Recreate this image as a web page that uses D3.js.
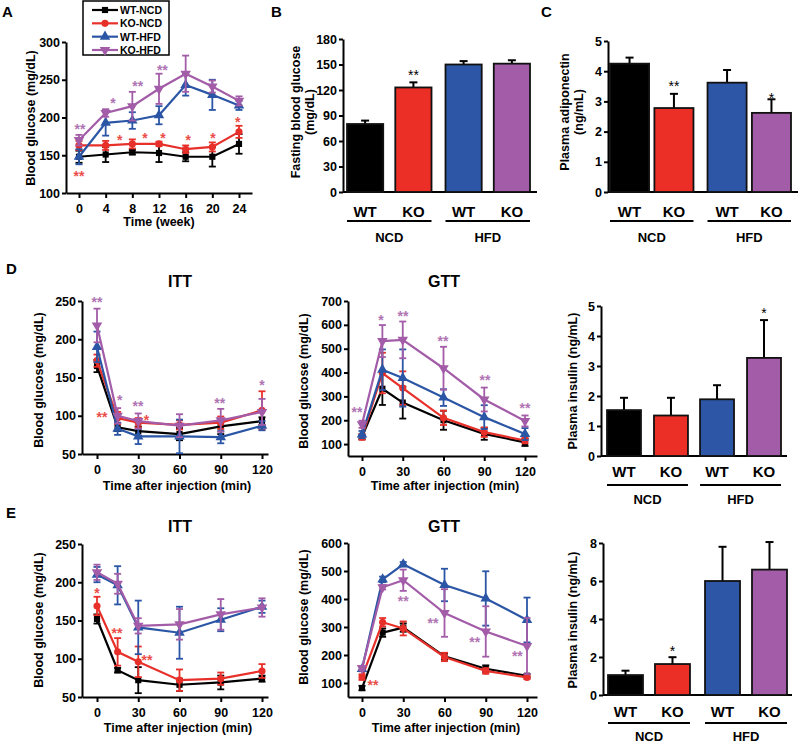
<!DOCTYPE html>
<html><head><meta charset="utf-8">
<script src="https://cdn.jsdelivr.net/npm/d3@7"></script>
<style>
body{margin:0;background:#fff}
svg{display:block;font-family:"Liberation Sans",Arial,sans-serif;font-weight:bold}
</style>
</head><body><svg id="c" width="800" height="745"></svg>
<script>
// ---------------- DATA ----------------
const groups = ["WT-NCD","KO-NCD","WT-HFD","KO-HFD"];
const lineColors = ["#000000","#e8302a","#2b55a5","#a35ca7"];
const barFills = ["#000000","#ec2f26","#2d57a6","#a35ca8"];
const genotypes = ["WT","KO"];
const diets = ["NCD","HFD"];

// Panel A: blood glucose over weeks
const weeks = [0,4,8,12,16,20,24];
const aTicksY = [100,150,200,250,300];
const aMeans = [
  [148,151,154,153,148,148,165],
  [163,163,165,165,158,161,181],
  [148,193,196,203,243,230,216],
  [170,206,215,238,258,241,222]
];
const aErrs = [
  [8,10,3,12,6,13,13],
  [6,6,6,3,5,6,8],
  [10,17,11,12,14,20,6],
  [7,5,19,20,24,8,6]
];
// [x, y, text, series index]
const aStars = [
  [0.15,189,"**",3],[5.1,223,"*",3],[8.8,246,"**",3],[12.5,267,"**",3],
  [0,126,"**",1],[6.1,174,"*",1],[9.9,177,"*",1],[12.6,177,"*",1],
  [16.4,174,"*",1],[20.1,177,"*",1],[23.8,198,"*",1]
];

// Panel B: fasting blood glucose
const bMeans = [80,123,150,151];
const bErrs = [4,6,4,4];
const bTicksY = [0,30,60,90,120,150,180];
const bStars = [[1,141,"**"]];

// Panel C: plasma adiponectin
const cMeans = [4.25,2.78,3.62,2.62];
const cErrs = [0.2,0.47,0.42,0.45];
const cTicksY = [0,1,2,3,4,5];
const cStars = [[1,3.6,"**"],[3,3.2,"*"]];

// time points for ITT / GTT
const minutes = [0,15,30,60,90,120];
const minTicks = [0,30,60,90,120];

// Panel D ITT
const dIttTicksY = [50,100,150,200,250];
const dIttMeans = [
  [165,85,80,76,86,93],
  [172,97,91,88,91,107],
  [190,83,73,73,72,87],
  [218,100,93,87,94,105]
];
const dIttErrs = [
  [8,5,6,8,10,5],
  [8,8,6,6,8,25],
  [20,8,10,22,8,6],
  [22,10,10,15,15,17]
];
const dIttStars = [
  [0,252,"**",3],[16.5,125,"*",3],[29.8,117,"**",3],[89.2,120,"**",3],[120,144,"*",3],
  [3.6,102,"**",1],[35.9,99,"*",1]
];

// Panel D GTT
const dGttTicksY = [100,200,300,400,500,600,700];
const dGttMeans = [
  [130,332,274,200,143,107],
  [130,398,335,210,150,115],
  [140,412,377,295,213,142],
  [183,532,537,418,287,197]
];
const dGttErrs = [
  [10,68,67,40,25,15],
  [12,85,70,30,20,12],
  [15,85,120,35,50,25],
  [15,67,77,90,50,23]
];
const dGttStars = [
  [-3.7,247,"**",3],[14,633,"*",3],[30.2,650,"**",3],[59.6,545,"**",3],[90.5,381,"**",3],[120,264,"**",3]
];

// Panel D plasma insulin
const dInsMeans = [1.53,1.35,1.89,3.27];
const dInsErrs = [0.41,0.59,0.47,1.26];
const dInsTicksY = [0,1,2,3,4,5];
const dInsStars = [[3,4.87,"*"]];

// Panel E ITT
const eIttTicksY = [50,100,150,200,250];
const eIttMeans = [
  [152,85,72,66,69,74],
  [169,109,96,72,74,84],
  [210,196,141,134,151,168],
  [213,198,143,145,158,167]
];
const eIttErrs = [
  [6,3,17,8,9,4],
  [12,18,20,14,8,9],
  [10,25,35,34,15,8],
  [10,13,10,20,20,12]
];
const eIttStars = [[0,190,"*",1],[14.5,138,"**",1],[36.4,102,"**",1]];

// Panel E GTT
const eGttTicksY = [100,200,300,400,500,600];
const eGttMeans = [
  [82,280,298,195,151,126],
  [121,317,295,193,143,120],
  [150,470,524,450,402,325],
  [153,442,467,350,284,232]
];
const eGttErrs = [
  [8,15,15,12,12,6],
  [10,15,25,15,10,6],
  [8,10,8,58,97,80],
  [8,8,38,85,90,100]
];
const eGttStars = [
  [8,104,"**",1],[30,403,"**",3],[51.6,325,"**",3],[82,257,"**",3],[113,207,"**",3]
];

// Panel E plasma insulin
const eInsMeans = [1.05,1.63,6.0,6.6];
const eInsErrs = [0.23,0.36,1.8,1.45];
const eInsTicksY = [0,2,4,6,8];
const eInsStars = [[1,2.5,"*"]];

// ---------------- DRAWING ----------------
const svg = d3.select("#c");
const TICK_FONT = "12.5px";
const TITLE_FONT = "12.5px";
const fmt = d3.format("~g");
const symbols = [
  {type:d3.symbolSquare,size:38,rot:0},
  {type:d3.symbolCircle,size:40,rot:0},
  {type:d3.symbolTriangle,size:48,rot:0},
  {type:d3.symbolTriangle,size:48,rot:180}
];

function styleAxis(g){
  g.select(".domain").attr("stroke","#000").attr("stroke-width",2);
  g.selectAll(".tick line").attr("stroke","#000").attr("stroke-width",2);
  g.selectAll(".tick text").attr("fill","#000").style("font-size",TICK_FONT).style("font-weight","bold")
    .style("font-family",'"Liberation Sans",Arial,sans-serif');
}

function yTitle(lines, xs, cy){
  lines.forEach((t,i)=>{
    svg.append("text").attr("transform",`translate(${xs[i]},${cy}) rotate(-90)`)
      .attr("text-anchor","middle").style("font-size",TITLE_FONT).text(t);
  });
}

function lineChart(c){
  const y = d3.scaleLinear().domain(c.yDomain).range(c.yRange);
  const x = d3.scaleLinear().domain([c.xv0,c.xv1]).range([c.xp0,c.xp1]);
  x.domain([x.invert(c.yAxisX), x.invert(c.xEnd)]).range([c.yAxisX, c.xEnd]);
  const gy = svg.append("g").attr("transform",`translate(${c.yAxisX},0)`)
    .call(d3.axisLeft(y).tickValues(c.yTicks).tickSize(4).tickSizeOuter(0).tickPadding(2).tickFormat(fmt));
  styleAxis(gy);
  const gx = svg.append("g").attr("transform",`translate(0,${c.yRange[0]})`)
    .call(d3.axisBottom(x).tickValues(c.xTicks).tickSize(5).tickSizeOuter(0).tickPadding(6).tickFormat(fmt));
  styleAxis(gx);
  const line = d3.line().x(d=>x(d[0])).y(d=>y(d[1]));
  c.means.forEach((m,si)=>{
    const col = lineColors[si];
    const g = svg.append("g");
    const pts = c.xs.map((xv,i)=>[xv,m[i],c.errs[si][i]]);
    pts.forEach(p=>{
      g.append("line").attr("x1",x(p[0])).attr("x2",x(p[0])).attr("y1",y(p[1]-p[2])).attr("y2",y(p[1]+p[2]))
        .attr("stroke",col).attr("stroke-width",1.8);
      [p[1]-p[2],p[1]+p[2]].forEach(v=>{
        g.append("line").attr("x1",x(p[0])-3.5).attr("x2",x(p[0])+3.5).attr("y1",y(v)).attr("y2",y(v))
          .attr("stroke",col).attr("stroke-width",1.8);
      });
    });
    g.append("path").datum(pts).attr("d",line).attr("fill","none").attr("stroke",col).attr("stroke-width",2.2);
    const s = symbols[si];
    g.selectAll("path.m").data(pts).enter().append("path").attr("class","m")
      .attr("d",d3.symbol().type(s.type).size(s.size))
      .attr("transform",d=>`translate(${x(d[0])},${y(d[1])}) rotate(${s.rot})`)
      .attr("fill",col);
  });
  c.stars.forEach(s=>{
    svg.append("text").attr("x",x(s[0])).attr("y",y(s[1])+8).attr("text-anchor","middle")
      .attr("fill",lineColors[s[3]]).attr("opacity",0.85).style("font-size","14px").text(s[2]);
  });
  yTitle([c.yTitle],[c.yTitleX],c.yTitleY);
  svg.append("text").attr("x",c.xTitleX).attr("y",c.xTitleY).attr("text-anchor","middle")
    .style("font-size",TITLE_FONT).text(c.xTitle);
  if(c.title){
    svg.append("text").attr("x",c.titleX).attr("y",c.titleY).attr("text-anchor","middle")
      .style("font-size","16px").text(c.title);
  }
}

function barChart(c){
  const y = d3.scaleLinear().domain(c.yDomain).range(c.yRange);
  const outer = d3.scaleBand().domain(diets).range(c.bandRange).paddingInner(c.op).paddingOuter(0);
  const inner = d3.scaleBand().domain(genotypes).range([0,outer.bandwidth()]).paddingInner(c.ip).paddingOuter(0);
  const bx = i => outer(diets[Math.floor(i/2)]) + inner(genotypes[i%2]);
  const gy = svg.append("g").attr("transform",`translate(${c.yAxisX},0)`)
    .call(d3.axisLeft(y).tickValues(c.yTicks).tickSize(4).tickSizeOuter(0).tickPadding(2).tickFormat(fmt));
  styleAxis(gy);
  svg.append("line").attr("x1",c.yAxisX).attr("x2",c.xEnd).attr("y1",y(c.yDomain[0])).attr("y2",y(c.yDomain[0]))
    .attr("stroke","#000").attr("stroke-width",2);
  const bw = inner.bandwidth();
  c.means.forEach((m,i)=>{
    const cx = bx(i)+bw/2;
    svg.append("line").attr("x1",cx).attr("x2",cx).attr("y1",y(m)).attr("y2",y(m+c.errs[i]))
      .attr("stroke","#000").attr("stroke-width",2);
    svg.append("line").attr("x1",cx-4).attr("x2",cx+4).attr("y1",y(m+c.errs[i])).attr("y2",y(m+c.errs[i]))
      .attr("stroke","#000").attr("stroke-width",2);
    svg.append("rect").attr("x",bx(i)).attr("y",y(m)).attr("width",bw).attr("height",y(c.yDomain[0])-y(m))
      .attr("fill",barFills[i]).attr("stroke","#111").attr("stroke-width",1.8);
    svg.append("text").attr("x",cx).attr("y",c.labelY).attr("text-anchor","middle")
      .style("font-size","15px").text(genotypes[i%2]);
  });
  diets.forEach(d=>{
    svg.append("line").attr("x1",outer(d)).attr("x2",outer(d)+outer.bandwidth()).attr("y1",c.lineY).attr("y2",c.lineY)
      .attr("stroke","#000").attr("stroke-width",2);
    svg.append("text").attr("x",outer(d)+outer.bandwidth()/2).attr("y",c.dietY).attr("text-anchor","middle")
      .style("font-size","13px").text(d);
  });
  c.stars.forEach(s=>{
    svg.append("text").attr("x",bx(s[0])+bw/2).attr("y",y(s[1])+8).attr("text-anchor","middle")
      .style("font-size","14px").style("font-weight","normal").text(s[2]);
  });
  yTitle(c.yTitle,c.yTitleX,c.yTitleY);
}

// Panel letters
[["A",2,17],["B",271,17],["C",541,17],["D",6,274],["E",6,518]].forEach(p=>{
  svg.append("text").attr("x",p[1]).attr("y",p[2]).style("font-size","15px").text(p[0]);
});

// A
lineChart({xs:weeks,means:aMeans,errs:aErrs,stars:aStars,yDomain:[100,300],yRange:[193,42],yTicks:aTicksY,
  xTicks:weeks,xv0:0,xv1:24,xp0:79,xp1:239,yAxisX:66,xEnd:252,
  yTitle:"Blood glucose (mg/dL)",yTitleX:35,yTitleY:118,xTitle:"Time (week)",xTitleX:159,xTitleY:226});

// legend A
(function(){
  const lg = svg.append("g");
  lg.append("rect").attr("x",83).attr("y",1).attr("width",86).attr("height",54)
    .attr("fill","#fff").attr("stroke","#000").attr("stroke-width",1.5);
  const ly = d3.scalePoint().domain(groups).range([10,50]);
  groups.forEach((gname,i)=>{
    const yy = ly(gname);
    lg.append("line").attr("x1",92).attr("x2",118).attr("y1",yy).attr("y2",yy)
      .attr("stroke",lineColors[i]).attr("stroke-width",2.2);
    const s = symbols[i];
    lg.append("path").attr("d",d3.symbol().type(s.type).size(s.size))
      .attr("transform",`translate(105,${yy}) rotate(${s.rot})`).attr("fill",lineColors[i]);
    lg.append("text").attr("x",120).attr("y",yy+4).style("font-size","10.5px").text(gname);
  });
})();

// B
barChart({means:bMeans,errs:bErrs,yDomain:[0,180],yRange:[192,39],yTicks:bTicksY,yAxisX:343,xEnd:537,
  bandRange:[347,530],op:0.142,ip:0.25,stars:bStars,labelY:217,lineY:221,dietY:242,
  yTitle:["Fasting blood glucose","(mg/dL)"],yTitleX:[300,314],yTitleY:112});

// C
barChart({means:cMeans,errs:cErrs,yDomain:[0,5],yRange:[192,41],yTicks:cTicksY,yAxisX:608,xEnd:798,
  bandRange:[610,791],op:0.144,ip:0.12,stars:cStars,labelY:217,lineY:221,dietY:242,
  yTitle:["Plasma adiponectin","(ng/mL)"],yTitleX:[569,583],yTitleY:112});

// D ITT
lineChart({xs:minutes,means:dIttMeans,errs:dIttErrs,stars:dIttStars,yDomain:[50,250],yRange:[454,301],yTicks:dIttTicksY,
  xTicks:minTicks,xv0:0,xv1:120,xp0:97,xp1:262,yAxisX:82,xEnd:268,
  yTitle:"Blood glucose (mg/dL)",yTitleX:43,yTitleY:380,xTitle:"Time after injection (min)",xTitleX:177,xTitleY:490,
  title:"ITT",titleX:180,titleY:287});

// D GTT
lineChart({xs:minutes,means:dGttMeans,errs:dGttErrs,stars:dGttStars,yDomain:[50,700],yRange:[456,301],yTicks:dGttTicksY,
  xTicks:minTicks,xv0:0,xv1:120,xp0:362,xp1:525,yAxisX:348,xEnd:537,
  yTitle:"Blood glucose (mg/dL)",yTitleX:308,yTitleY:381,xTitle:"Time after injection (min)",xTitleX:445,xTitleY:490,
  title:"GTT",titleX:444,titleY:287});

// D insulin
barChart({means:dInsMeans,errs:dInsErrs,yDomain:[0,5],yRange:[456,306],yTicks:dInsTicksY,yAxisX:601,xEnd:787,
  bandRange:[607,781],op:0.13,ip:0.277,stars:dInsStars,labelY:477,lineY:485,dietY:504,
  yTitle:["Plasma insulin (ng/mL)"],yTitleX:[577],yTitleY:381});

// E ITT
lineChart({xs:minutes,means:eIttMeans,errs:eIttErrs,stars:eIttStars,yDomain:[50,250],yRange:[697,544],yTicks:eIttTicksY,
  xTicks:minTicks,xv0:0,xv1:120,xp0:97,xp1:262,yAxisX:82,xEnd:268,
  yTitle:"Blood glucose (mg/dL)",yTitleX:43,yTitleY:620,xTitle:"Time after injection (min)",xTitleX:178,xTitleY:732,
  title:"ITT",titleX:180,titleY:532});

// E GTT
lineChart({xs:minutes,means:eGttMeans,errs:eGttErrs,stars:eGttStars,yDomain:[50,600],yRange:[697,543],yTicks:eGttTicksY,
  xTicks:minTicks,xv0:0,xv1:120,xp0:362,xp1:527,yAxisX:348,xEnd:537,
  yTitle:"Blood glucose (mg/dL)",yTitleX:308,yTitleY:617,xTitle:"Time after injection (min)",xTitleX:446,xTitleY:732,
  title:"GTT",titleX:444,titleY:532});

// E insulin
barChart({means:eInsMeans,errs:eInsErrs,yDomain:[0,8],yRange:[695,543],yTicks:eInsTicksY,yAxisX:603,xEnd:792,
  bandRange:[608,787],op:0.155,ip:0.255,stars:eInsStars,labelY:717,lineY:723,dietY:741,
  yTitle:["Plasma insulin (ng/mL)"],yTitleX:[577],yTitleY:620});
</script>
</body></html>
